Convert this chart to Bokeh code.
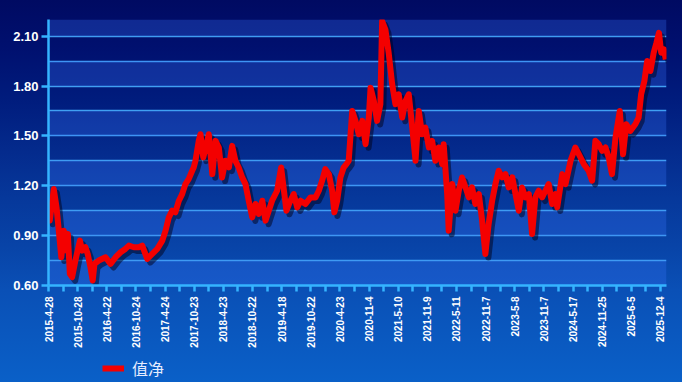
from bokeh.plotting import figure
from bokeh.models import (ColumnDataSource, Range1d, FixedTicker, PrintfTickFormatter,
                          Legend, LegendItem, BoxAnnotation)
from bokeh.layouts import column
from bokeh.transform import dodge
from bokeh.embed import file_html
from bokeh.resources import INLINE
import math

# ---- data (trading-day index, net value) ----
day_index = [0, 5, 21, 32, 41, 51, 61, 72, 77, 85, 94, 107, 125, 134, 147, 156, 167, 176, 183, 200,
             227, 247, 267, 287, 306, 320, 340, 359, 373, 393, 413, 433, 453, 466, 479, 492, 505, 519,
             532, 545, 558, 572, 578, 585, 598, 605, 616, 629, 638, 652, 665, 678, 691, 704, 718, 731,
             744, 757, 771, 784, 797, 811, 824, 837, 851, 864, 877, 890, 910, 926, 934, 947, 963, 976,
             990, 1003, 1023, 1043, 1063, 1076, 1089, 1102, 1116, 1129, 1138, 1149, 1162, 1175, 1186,
             1195, 1209, 1222, 1235, 1249, 1262, 1275, 1282, 1295, 1308, 1321, 1328, 1341, 1354, 1368,
             1381, 1394, 1408, 1421, 1434, 1448, 1461, 1474, 1487, 1500, 1514, 1527, 1540, 1553, 1567,
             1573, 1587, 1593, 1607, 1620, 1633, 1646, 1660, 1673, 1686, 1699, 1713, 1726, 1739, 1752,
             1766, 1779, 1792, 1806, 1819, 1832, 1846, 1859, 1872, 1885, 1898, 1912, 1925, 1938, 1951,
             1965, 1978, 1991, 2005, 2018, 2025, 2045, 2058, 2078, 2097, 2111, 2131, 2150, 2164, 2177,
             2190, 2204, 2217, 2230, 2243, 2257, 2274, 2287, 2300, 2316, 2336, 2349, 2359, 2372, 2383,
             2396, 2409, 2420, 2430, 2439, 2450, 2457]
net_value = [1.03, 0.99, 1.18, 1.07, 0.93, 0.77, 0.93, 0.81, 0.91, 0.67, 0.65, 0.75, 0.87, 0.81, 0.83,
             0.79, 0.71, 0.63, 0.73, 0.75, 0.77, 0.73, 0.77, 0.80, 0.82, 0.84, 0.83, 0.83, 0.84, 0.76,
             0.79, 0.82, 0.87, 0.93, 1.01, 1.05, 1.04, 1.11, 1.15, 1.21, 1.24, 1.29, 1.31, 1.35, 1.47,
             1.51, 1.37, 1.45, 1.51, 1.27, 1.47, 1.43, 1.25, 1.35, 1.31, 1.44, 1.35, 1.31, 1.25, 1.21,
             1.11, 1.01, 1.09, 1.03, 1.11, 0.99, 1.05, 1.11, 1.17, 1.31, 1.21, 1.05, 1.11, 1.15, 1.07,
             1.11, 1.09, 1.13, 1.13, 1.17, 1.23, 1.30, 1.27, 1.17, 1.04, 1.11, 1.25, 1.31, 1.33, 1.35,
             1.65, 1.59, 1.51, 1.59, 1.45, 1.61, 1.79, 1.71, 1.59, 1.69, 2.19, 2.14, 2.00, 1.81, 1.69,
             1.75, 1.61, 1.71, 1.75, 1.55, 1.35, 1.65, 1.51, 1.55, 1.43, 1.47, 1.35, 1.43, 1.33, 1.45,
             1.15, 0.93, 1.21, 1.05, 1.17, 1.25, 1.19, 1.13, 1.19, 1.09, 1.15, 0.99, 0.79, 0.97, 1.11,
             1.21, 1.29, 1.25, 1.27, 1.19, 1.25, 1.15, 1.05, 1.19, 1.13, 1.15, 0.91, 1.13, 1.17, 1.13,
             1.17, 1.21, 1.09, 1.15, 1.07, 1.27, 1.21, 1.35, 1.43, 1.39, 1.33, 1.29, 1.23, 1.47, 1.45,
             1.41, 1.43, 1.37, 1.27, 1.49, 1.65, 1.39, 1.57, 1.53, 1.57, 1.61, 1.75, 1.83, 1.95, 1.89,
             2.00, 2.06, 2.12, 2.00, 2.02, 1.96]

tick_labels = ["2015-4-28", "2015-10-28", "2016-4-22", "2016-10-24", "2017-4-24", "2017-10-23",
               "2018-4-23", "2018-10-22", "2019-4-18", "2019-10-22", "2020-4-23", "2020-11-4",
               "2021-5-10", "2021-11-9", "2022-5-11", "2022-11-7", "2023-5-8", "2023-11-7",
               "2024-5-17", "2024-11-25", "2025-6-5", "2025-12-4"]
days_per_label = 116
y_ticks = [0.60, 0.90, 1.20, 1.50, 1.80, 2.10]
series_name = "值净"

src = ColumnDataSource(data=dict(x=day_index, y=net_value))

p = figure(width=682, height=355, output_backend="svg", toolbar_location=None,
           x_range=Range1d(0, 2460), y_range=Range1d(0.60, 2.20),
           min_border_left=48, min_border_right=16, min_border_top=19, min_border_bottom=70)
p.border_fill_color = None
p.background_fill_color = None
p.outline_line_color = None

# grid lines and lighter bands
p.xgrid.visible = False
grid_ticks = [0.60 + 0.15 * i for i in range(11)] + [2.20]
p.ygrid.ticker = FixedTicker(ticks=grid_ticks)
p.ygrid.grid_line_color = "#40a0f2"
p.ygrid.grid_line_width = 1.5
for i in range(0, len(grid_ticks) - 1, 2):
    p.add_layout(BoxAnnotation(bottom=grid_ticks[i], top=grid_ticks[i + 1],
                               fill_color="#3a78ff", fill_alpha=0.28, line_color=None,
                               level="underlay"))

axis_color = "#35b4ff"
# y axis
p.yaxis.ticker = FixedTicker(ticks=y_ticks)
p.yaxis.formatter = PrintfTickFormatter(format="%.2f")
p.yaxis.axis_line_color = axis_color
p.yaxis.axis_line_width = 2.5
p.yaxis.major_tick_line_color = axis_color
p.yaxis.major_tick_line_width = 2.5
p.yaxis.major_tick_out = 7
p.yaxis.major_tick_in = 0
p.yaxis.minor_tick_line_color = None
p.yaxis.major_label_text_color = "#ffffff"
p.yaxis.major_label_text_font = "Liberation Sans"
p.yaxis.major_label_text_font_style = "bold"
p.yaxis.major_label_text_font_size = "13px"
p.yaxis.major_label_standoff = 3

# x axis
major = [i * days_per_label for i in range(len(tick_labels))]
minor = [i * days_per_label + days_per_label // 2 for i in range(len(tick_labels) - 1)]
p.xaxis.ticker = FixedTicker(ticks=major, minor_ticks=minor)
p.xaxis.major_label_overrides = {m: lab for m, lab in zip(major, tick_labels)}
p.xaxis.major_label_orientation = math.pi / 2
p.xaxis.axis_line_color = axis_color
p.xaxis.axis_line_width = 2.5
p.xaxis.major_tick_line_color = axis_color
p.xaxis.major_tick_line_width = 2.5
p.xaxis.major_tick_out = 6
p.xaxis.major_tick_in = 0
p.xaxis.minor_tick_line_color = axis_color
p.xaxis.minor_tick_line_width = 2.5
p.xaxis.minor_tick_out = 6
p.xaxis.minor_tick_in = 0
p.xaxis.major_label_text_color = "#ffffff"
p.xaxis.major_label_text_font = "Liberation Sans"
p.xaxis.major_label_text_font_style = "bold"
p.xaxis.major_label_text_font_size = "10px"
p.xaxis.major_label_standoff = 5

# line with shadow
p.line(x=dodge("x", 12, range=p.x_range), y=dodge("y", -0.022, range=p.y_range),
       source=src, line_color="#000018", line_alpha=0.5, line_width=6, line_join="round")
p.line(x="x", y="y", source=src, line_color="#f40000", line_width=6, line_join="round")

# legend strip below the chart
q = figure(width=682, height=27, output_backend="svg", toolbar_location=None,
           x_range=Range1d(-20, -10), y_range=Range1d(-20, -10),
           min_border=0, x_axis_location=None, y_axis_location=None)
q.border_fill_color = None
q.background_fill_color = None
q.outline_line_color = None
q.grid.visible = False
legend_line = q.line(x="x", y="y", source=src, line_color="#f40000", line_width=6)
legend = Legend(items=[LegendItem(label=series_name, renderers=[legend_line])],
                location=(54, 2), orientation="horizontal",
                background_fill_alpha=0, border_line_color=None,
                label_text_color="#e6ecff", label_text_font="Noto Sans CJK SC",
                label_text_font_size="16px", glyph_width=22, glyph_height=16,
                label_standoff=8, padding=2, margin=0, spacing=0)
q.add_layout(legend, "center")

layout = column(p, q, spacing=0)
layout.styles = {"background-image": "linear-gradient(to bottom, #000a62 0%, #00106f 12.5%, "
                 "#001c7d 26%, #042a8c 39%, #06389b 52%, #0844a8 65%, #0a50b6 76%, #0a60c8 100%)"}

open("out.html", "w").write(file_html(layout, INLINE))
